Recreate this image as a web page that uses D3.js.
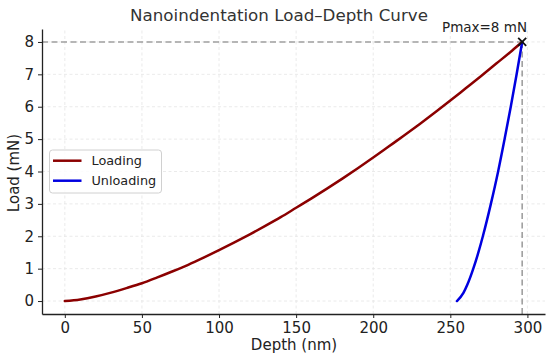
<!DOCTYPE html>
<html>
<head>
<meta charset="utf-8">
<script src="https://cdn.jsdelivr.net/npm/d3@7"></script>
<style>
  html, body { margin: 0; padding: 0; background: #fff; }
  svg { display: block; font-family: "DejaVu Sans", sans-serif; }
</style>
</head>
<body>
<svg id="chart" width="550" height="357"></svg>
<script>
// values
const loadDepth = [0, 10, 20, 30, 40, 50, 60, 70, 80, 90, 100, 110, 120, 130, 140, 150,
  160, 170, 180, 190, 200, 210, 220, 230, 240, 250, 260, 270, 280, 290, 296.6];
const loadForce = [0, 0.05, 0.14, 0.26, 0.40, 0.55, 0.73, 0.92, 1.12, 1.34, 1.57, 1.81,
  2.06, 2.32, 2.59, 2.88, 3.17, 3.47, 3.78, 4.10, 4.43, 4.77, 5.11, 5.46, 5.82, 6.19,
  6.57, 6.95, 7.34, 7.73, 8.0];
const unloadDepth = [254.3, 258.5, 261.0, 264.9, 268.2, 271.1, 276.3, 281.0, 285.2, 289.2, 293.0, 296.6];
const unloadForce = [0, 0.25, 0.5, 1, 1.5, 2, 3, 4, 5, 6, 7, 8];
const xTicks = [0, 50, 100, 150, 200, 250, 300];
const yTicks = [0, 1, 2, 3, 4, 5, 6, 7, 8];
const pMax = 8;
const hMax = 296.6;
const seriesNames = ['Loading', 'Unloading'];
const seriesColors = ['#8b0000', '#0000e0'];

const margin = { left: 42, right: 5, top: 29, bottom: 43 };
const width = 550, height = 357;

const svg = d3.select('#chart');

const x = d3.scaleLinear().domain([-14.8, 311.4]).range([margin.left, width - margin.right]);
const y = d3.scaleLinear().domain([-0.4, 8.4]).range([height - margin.bottom, margin.top]);

// grid
const grid = svg.append('g').attr('class', 'grid');
grid.selectAll('.gx').data(xTicks).enter().append('line')
  .attr('x1', d => x(d)).attr('x2', d => x(d))
  .attr('y1', y.range()[0]).attr('y2', y.range()[1])
  .attr('stroke', '#e4e4e4').attr('stroke-width', 0.8).attr('stroke-dasharray', '3,2.5');
grid.selectAll('.gy').data(yTicks).enter().append('line')
  .attr('x1', x.range()[0]).attr('x2', x.range()[1])
  .attr('y1', d => y(d)).attr('y2', d => y(d))
  .attr('stroke', '#e4e4e4').attr('stroke-width', 0.8).attr('stroke-dasharray', '3,2.5');

// reference lines at max load / max depth
svg.append('line')
  .attr('x1', x.range()[0]).attr('x2', x(hMax))
  .attr('y1', y(pMax)).attr('y2', y(pMax))
  .attr('stroke', '#a0a0a0').attr('stroke-width', 1.6).attr('stroke-dasharray', '6,3.5');
svg.append('line')
  .attr('x1', x(hMax)).attr('x2', x(hMax))
  .attr('y1', y(pMax)).attr('y2', y.range()[0])
  .attr('stroke', '#a0a0a0').attr('stroke-width', 1.6).attr('stroke-dasharray', '6,3.5');

// curves
const line = d3.line().x(d => x(d[0])).y(d => y(d[1])).curve(d3.curveMonotoneX);
const loading = loadDepth.map((d, i) => [d, loadForce[i]]);
const unloading = unloadDepth.map((d, i) => [d, unloadForce[i]]);

svg.append('path').datum(loading)
  .attr('d', line).attr('fill', 'none')
  .attr('stroke', seriesColors[0]).attr('stroke-width', 2.5).attr('stroke-linecap', 'round');
svg.append('path').datum(unloading)
  .attr('d', line).attr('fill', 'none')
  .attr('stroke', seriesColors[1]).attr('stroke-width', 2.5).attr('stroke-linecap', 'round');

// max marker
const mx = x(hMax), my = y(pMax), s = 4;
svg.append('path')
  .attr('d', `M${mx - s},${my - s}L${mx + s},${my + s}M${mx - s},${my + s}L${mx + s},${my - s}`)
  .attr('stroke', '#111').attr('stroke-width', 1.8);

svg.append('text')
  .attr('x', 527).attr('y', 32)
  .attr('text-anchor', 'end')
  .style('font-size', '13.5px').attr('fill', '#222')
  .text('Pmax=8 mN');

// axes
const xAxis = d3.axisBottom(x).tickValues(xTicks).tickSize(4).tickPadding(4).tickSizeOuter(0);
const yAxis = d3.axisLeft(y).tickValues(yTicks).tickSize(4).tickPadding(4).tickSizeOuter(0);

const gx = svg.append('g')
  .attr('transform', `translate(0,${y.range()[0]})`)
  .call(xAxis);
const gy = svg.append('g')
  .attr('transform', `translate(${x.range()[0]},0)`)
  .call(yAxis);

for (const g of [gx, gy]) {
  g.select('.domain').attr('stroke', '#222').attr('stroke-width', 1.3);
  g.selectAll('.tick line').attr('stroke', '#222').attr('stroke-width', 1);
  g.selectAll('.tick text')
    .style('font-size', '15px')
    .style('font-family', '"DejaVu Sans", sans-serif')
    .attr('fill', '#222');
}

// axis labels + title
svg.append('text')
  .attr('x', 294).attr('y', 350)
  .attr('text-anchor', 'middle')
  .style('font-size', '15px').attr('fill', '#222')
  .text('Depth (nm)');

svg.append('text')
  .attr('transform', 'translate(19,173)rotate(-90)')
  .attr('text-anchor', 'middle')
  .style('font-size', '15px').attr('fill', '#222')
  .text('Load (mN)');

svg.append('text')
  .attr('x', 279).attr('y', 21)
  .attr('text-anchor', 'middle')
  .style('font-size', '16.7px').attr('fill', '#333')
  .text('Nanoindentation Load–Depth Curve');

// legend
const legend = svg.append('g').attr('transform', 'translate(49.5,150)');
legend.append('rect')
  .attr('width', 112).attr('height', 43)
  .attr('rx', 3).attr('ry', 3)
  .attr('fill', '#fff').attr('fill-opacity', 0.85)
  .attr('stroke', '#d0d0d0').attr('stroke-width', 1);

const items = legend.selectAll('.item')
  .data(seriesNames)
  .enter()
  .append('g')
  .attr('class', 'item')
  .attr('transform', (d, i) => `translate(0,${10.7 + 20 * i})`);

items.append('line')
  .attr('x1', 3.5).attr('x2', 32)
  .attr('stroke', (d, i) => seriesColors[i]).attr('stroke-width', 2.5);

items.append('text')
  .attr('x', 42).attr('y', 0).attr('dy', '0.35em')
  .style('font-size', '12.8px').attr('fill', '#222')
  .text(d => d);
</script>
</body>
</html>
